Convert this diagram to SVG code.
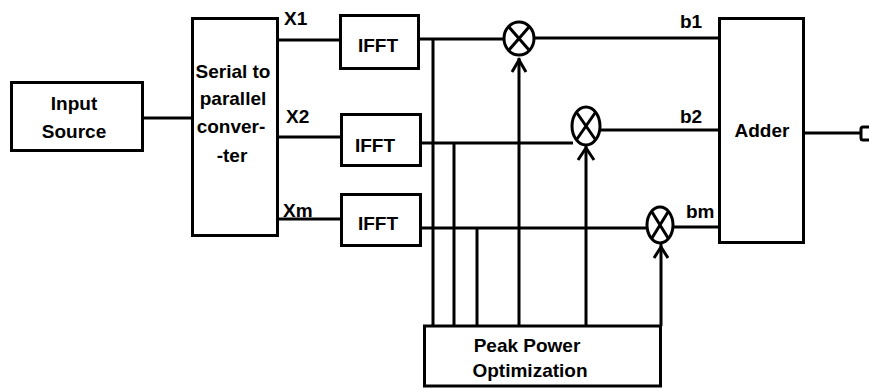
<svg xmlns="http://www.w3.org/2000/svg" width="869" height="390" viewBox="0 0 869 390">
<style>
.box{fill:#fff;stroke:#000;stroke-width:3}
.ln{fill:none;stroke:#000;stroke-width:3}
.mul{fill:none;stroke:#000;stroke-width:3}
text{font-family:"Liberation Sans",Arial,sans-serif;font-weight:bold;font-size:19px;fill:#000}
.c{text-anchor:middle}
</style>
<rect width="869" height="390" fill="#fff"/>
<g id="connectors">
<line class="ln" x1="144" y1="118" x2="192" y2="118"/>
<line class="ln" x1="278" y1="40" x2="340" y2="40"/>
<line class="ln" x1="278" y1="137" x2="341" y2="137"/>
<line class="ln" x1="278" y1="219" x2="341" y2="219"/>
<line class="ln" x1="419" y1="39" x2="504" y2="39"/>
<line class="ln" x1="421" y1="143" x2="573" y2="143"/>
<line class="ln" x1="421" y1="228" x2="647" y2="228"/>
<line class="ln" x1="433" y1="39" x2="433" y2="326"/>
<line class="ln" x1="454" y1="142" x2="454" y2="326"/>
<line class="ln" x1="477" y1="227" x2="477" y2="326"/>
<line class="ln" x1="519" y1="58" x2="519" y2="326"/>
<line class="ln" x1="586" y1="146" x2="586" y2="326"/>
<line class="ln" x1="661" y1="244" x2="661" y2="326"/>
<line class="ln" x1="534" y1="38" x2="720" y2="38"/>
<line class="ln" x1="600" y1="130" x2="720" y2="130"/>
<line class="ln" x1="673" y1="227" x2="720" y2="227"/>
<line class="ln" x1="804" y1="133" x2="862" y2="133"/>
<path class="ln" d="M869,127 H863 Q861,127 861,129 V138 Q861,140 863,140 H869"/>
<path class="ln" d="M512,72 L519,60 L526,72"/>
<path class="ln" d="M578,160 L586,148 L594,160"/>
<path class="ln" d="M654,258 L661,247 L668,258"/>
</g>
<g id="input-source">
<rect class="box" x="11.5" y="82.5" width="131" height="68"/>
<text class="c" x="74" y="110">Input</text>
<text class="c" x="74" y="138">Source</text>
</g>
<g id="serial-to-parallel">
<rect class="box" x="192.5" y="18.5" width="85" height="217"/>
<text class="c" x="233" y="78">Serial to</text>
<text class="c" x="233" y="105">parallel</text>
<text class="c" x="231" y="133">conver-</text>
<text class="c" x="232" y="162">-ter</text>
</g>
<g id="labels-x">
<text x="284" y="25">X1</text>
<text x="286" y="123">X2</text>
<text x="283" y="217">Xm</text>
</g>
<g id="ifft1">
<rect class="box" x="340.5" y="15.5" width="78" height="53"/>
<text class="c" x="378" y="52">IFFT</text>
</g>
<g id="ifft2">
<rect class="box" x="341.5" y="114.5" width="79" height="51"/>
<text class="c" x="375" y="152">IFFT</text>
</g>
<g id="ifft3">
<rect class="box" x="341.5" y="194.5" width="79" height="51"/>
<text class="c" x="378" y="230">IFFT</text>
</g>
<g id="mult1">
<ellipse class="mul" cx="519" cy="38.5" rx="15" ry="16.5"/>
<path class="ln" d="M509,27 L529,50 M529,27 L509,50"/>
</g>
<g id="mult2">
<ellipse class="mul" cx="586" cy="126" rx="14" ry="19"/>
<path class="ln" d="M577,113 L595,139 M595,113 L577,139"/>
</g>
<g id="mult3">
<ellipse class="mul" cx="660" cy="225" rx="13" ry="18"/>
<path class="ln" d="M652,212 L668,238 M668,212 L652,238"/>
</g>
<g id="labels-b">
<text x="680" y="28">b1</text>
<text x="680" y="123">b2</text>
<text x="686" y="218">bm</text>
</g>
<g id="adder">
<rect class="box" x="719.5" y="18.5" width="84" height="224"/>
<text class="c" x="762" y="137">Adder</text>
</g>
<g id="peak-power">
<rect class="box" x="424.5" y="326" width="236" height="60"/>
<text class="c" x="527" y="352">Peak Power</text>
<text class="c" x="530" y="377">Optimization</text>
</g>
</svg>
